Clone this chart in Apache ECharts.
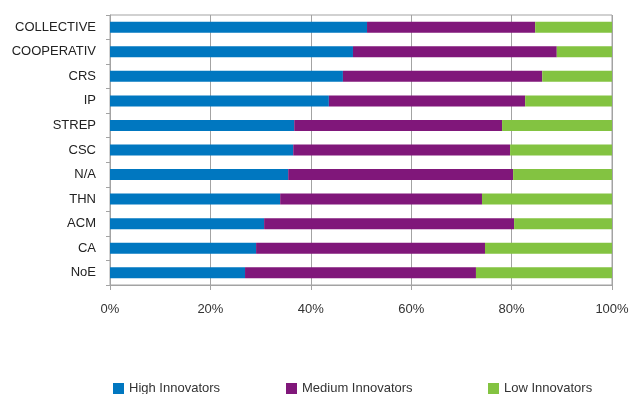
<!DOCTYPE html>
<html>
<head>
<meta charset="utf-8">
<script src="https://cdn.jsdelivr.net/npm/echarts@6/dist/echarts.min.js"></script>
<style>
  html, body { margin: 0; padding: 0; background: #fff; }
  #chart { width: 632px; height: 394px; }
</style>
</head>
<body>
<div id="chart"></div>
<script>
// Project types, listed top to bottom
var categories = ['COLLECTIVE', 'COOPERATIV', 'CRS', 'IP', 'STREP', 'CSC', 'N/A', 'THN', 'ACM', 'CA', 'NoE'];
// Share of each innovator group per project type (%)
var highInnovators   = [51.2, 48.4, 46.4, 43.6, 36.7, 36.5, 35.5, 33.9, 30.7, 29.1, 26.9];
var mediumInnovators = [33.5, 40.6, 39.7, 39.1, 41.4, 43.2, 44.8, 40.2, 49.8, 45.6, 46.0];
var lowInnovators    = [15.3, 11.0, 13.9, 17.3, 21.9, 20.3, 19.7, 25.9, 19.5, 25.3, 27.1];
var xTicks = [0, 20, 40, 60, 80, 100];

var seriesNames = ['High Innovators', 'Medium Innovators', 'Low Innovators'];
var colors = ['#0077c0', '#80177a', '#83c341'];
var seriesData = [highInnovators, mediumInnovators, lowInnovators];
var legendLeft = [108, 281, 483];

var font = 'Liberation Sans, Arial, Helvetica, sans-serif';
var chart = echarts.init(document.getElementById('chart'));

chart.setOption({
  animation: false,
  color: colors,
  grid: {
    left: 110, right: 20, top: 15, bottom: 109,
    show: true, borderColor: '#a3a3a3', borderWidth: 1
  },
  legend: seriesNames.map(function (name, i) {
    return {
      data: [name],
      left: legendLeft[i],
      top: 377,
      itemWidth: 11,
      itemHeight: 11,
      itemGap: 6,
      icon: 'rect',
      textStyle: { fontFamily: font, fontSize: 13, color: '#333' }
    };
  }),
  xAxis: {
    type: 'value',
    min: xTicks[0],
    max: xTicks[xTicks.length - 1],
    interval: 20,
    axisLine: { show: true, lineStyle: { color: '#a3a3a3' } },
    axisTick: { show: true, length: 5, lineStyle: { color: '#a3a3a3' } },
    splitLine: { show: true, lineStyle: { color: '#a3a3a3', width: 1 } },
    axisLabel: {
      margin: 18,
      fontFamily: font, fontSize: 13, color: '#333',
      formatter: function (v) { return v + '%'; }
    }
  },
  yAxis: {
    type: 'category',
    data: categories,
    inverse: true,
    axisLine: { show: true, lineStyle: { color: '#a3a3a3' } },
    axisTick: { show: true, length: 4, lineStyle: { color: '#a3a3a3' } },
    axisLabel: { margin: 14, fontFamily: font, fontSize: 13, color: '#222' }
  },
  series: seriesNames.map(function (name, i) {
    return {
      name: name,
      type: 'bar',
      stack: 'share',
      barWidth: 11,
      data: seriesData[i],
      itemStyle: { color: colors[i] }
    };
  })
});
</script>
</body>
</html>
